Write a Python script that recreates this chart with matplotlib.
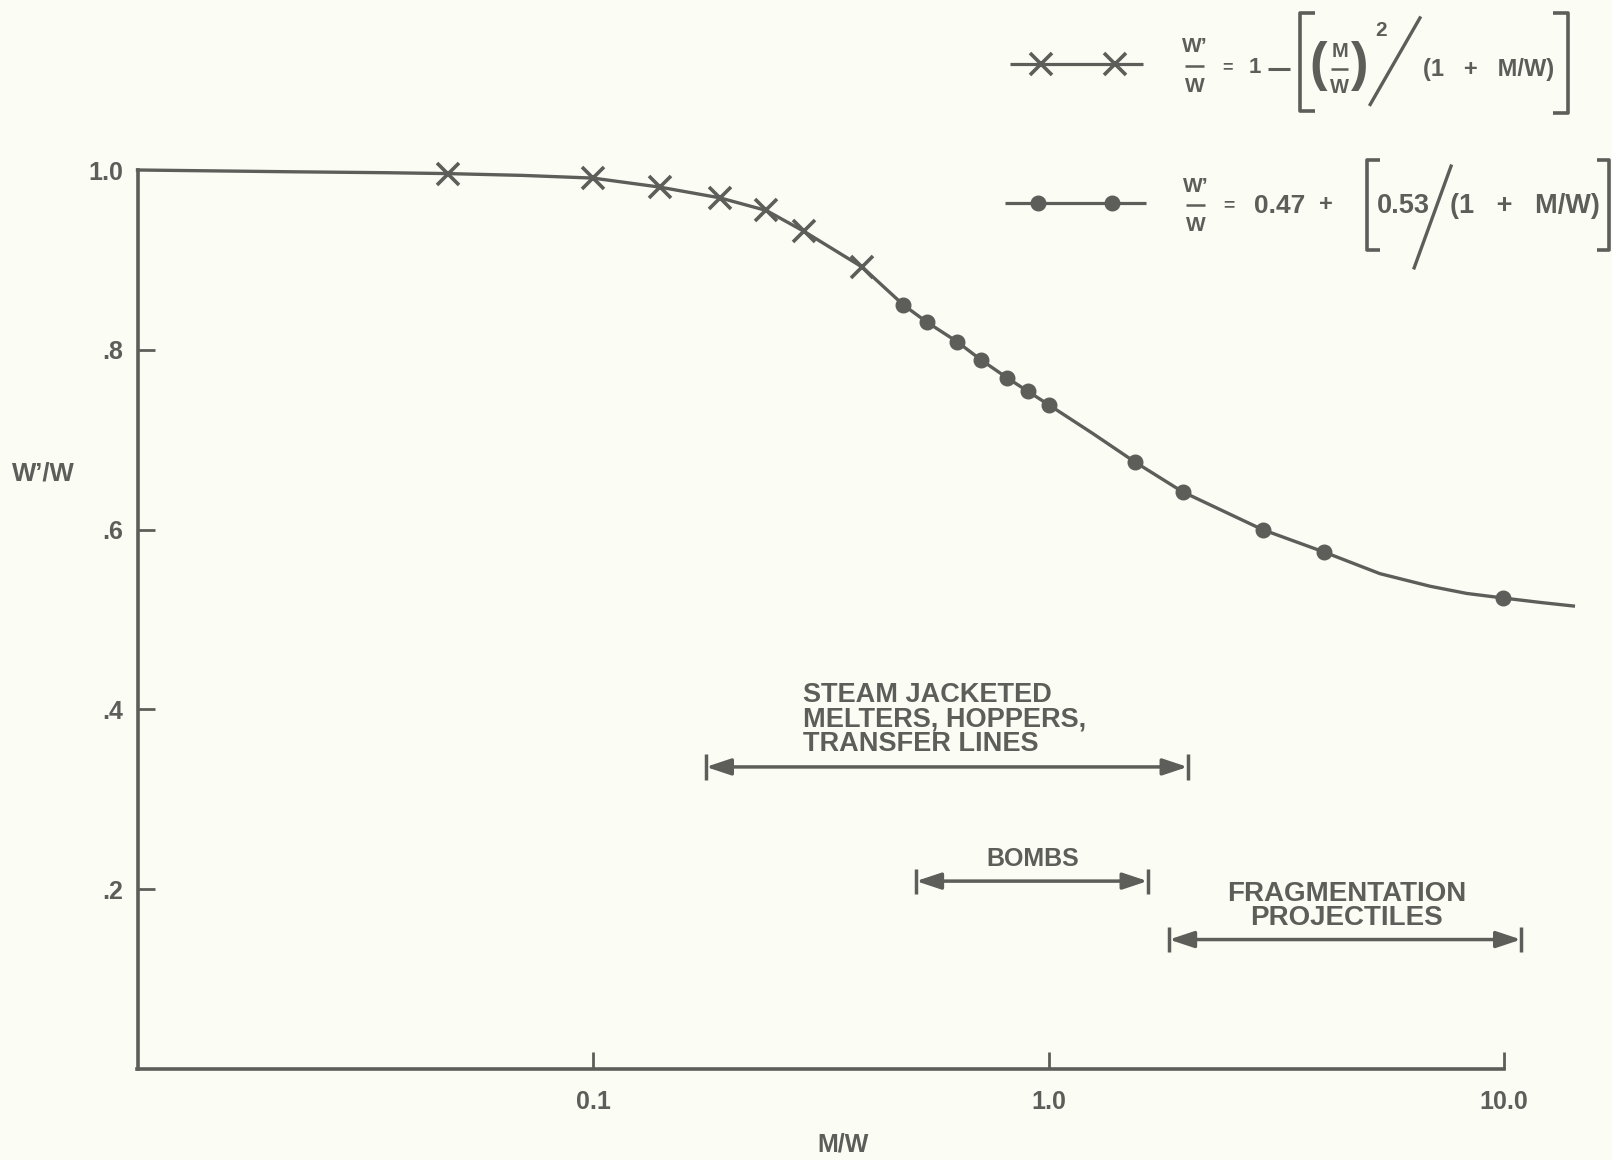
import matplotlib
matplotlib.use('Agg')
import matplotlib.pyplot as plt
from matplotlib.lines import Line2D
from matplotlib.ticker import NullLocator, FixedLocator, FixedFormatter

plt.rcParams['font.family'] = ['Liberation Sans', 'DejaVu Sans']
plt.rcParams['font.weight'] = 'bold'

INK = '#5d5e59'
BG = '#fbfcf4'

# ---------------- data ----------------
cross_x = [0.048, 0.10, 0.14, 0.19, 0.24, 0.29, 0.39]
cross_y = [0.996, 0.991, 0.981, 0.969, 0.955, 0.932, 0.892]

dot_x = [0.48, 0.54, 0.63, 0.71, 0.81, 0.90, 1.0, 1.55, 1.97, 2.95, 4.03, 9.93]
dot_y = [0.850, 0.831, 0.809, 0.789, 0.769, 0.754, 0.739, 0.675, 0.642, 0.600, 0.575, 0.524]

curve_x = [0.01, 0.022, 0.035, 0.048, 0.07, 0.10, 0.14, 0.19, 0.24, 0.29, 0.39,
           0.48, 0.54, 0.63, 0.71, 0.81, 0.90, 1.0, 1.25, 1.55, 1.97, 2.95,
           4.03, 5.34, 6.88, 8.28, 9.93, 12.0, 14.2]
curve_y = [1.0, 0.998, 0.997, 0.996, 0.994, 0.991, 0.981, 0.969, 0.955, 0.932, 0.892,
           0.850, 0.831, 0.809, 0.789, 0.769, 0.754, 0.739, 0.707, 0.675, 0.642, 0.600,
           0.575, 0.551, 0.537, 0.529, 0.524, 0.519, 0.515]

range_labels = ['STEAM JACKETED\nMELTERS, HOPPERS,\nTRANSFER LINES', 'BOMBS',
                'FRAGMENTATION\nPROJECTILES']
range_lo = [0.177, 0.512, 1.84]
range_hi = [2.02, 1.65, 10.9]
range_y = [0.336, 0.209, 0.144]

x_ticks = [0.1, 1.0, 10.0]
x_ticklabels = ['0.1', '1.0', '10.0']
y_ticks = [0.2, 0.4, 0.6, 0.8, 1.0]
y_ticklabels = ['.2', '.4', '.6', '.8', '1.0']

# ---------------- figure ----------------
fig = plt.figure(figsize=(16.12, 11.60), dpi=100, facecolor=BG)
ax = fig.add_axes([137.5 / 1612, 91 / 1160, 3.1761 * 455.5 / 1612, 899 / 1160])
ax.set_facecolor(BG)
ax.set_xscale('log')
ax.set_xlim(0.01, 15)
ax.set_ylim(0, 1.0)

for s in ['top', 'right']:
    ax.spines[s].set_visible(False)
for s in ['left', 'bottom']:
    ax.spines[s].set_color(INK)
    ax.spines[s].set_linewidth(2.6)
ax.spines['bottom'].set_bounds(0.01, 10)

ax.xaxis.set_major_locator(FixedLocator(x_ticks))
ax.xaxis.set_major_formatter(FixedFormatter(x_ticklabels))
ax.xaxis.set_minor_locator(NullLocator())
ax.yaxis.set_major_locator(FixedLocator(y_ticks))
ax.yaxis.set_major_formatter(FixedFormatter(y_ticklabels))
ax.tick_params(axis='x', direction='in', length=12, width=2, colors=INK,
               labelsize=18, pad=15)
ax.tick_params(axis='y', direction='in', length=12, width=2, colors=INK,
               labelsize=18, pad=10)
ax.yaxis.get_major_ticks()[-1].tick1line.set_visible(False)
for lbl in ax.get_xticklabels() + ax.get_yticklabels():
    lbl.set_fontweight('bold')

# curve and markers
ax.plot(curve_x, curve_y, color=INK, lw=2.4, clip_on=False, zorder=3,
        solid_joinstyle='round')
ax.plot(cross_x, cross_y, ls='none', marker='x', ms=16, mew=2.6, color=INK,
        clip_on=False, zorder=4)
ax.plot(dot_x, dot_y, ls='none', marker='o', ms=10.5, color=INK, clip_on=False, zorder=4)

# range arrows
for lab, lo, hi, y in zip(range_labels, range_lo, range_hi, range_y):
    ax.annotate('', xy=(hi, y), xytext=(lo, y),
                arrowprops=dict(arrowstyle='<|-|>,head_length=1.5,head_width=0.5',
                                lw=2.5, color=INK, shrinkA=0, shrinkB=0,
                                mutation_scale=10))
    ax.vlines([lo, hi], y - 0.014, y + 0.014, color=INK, lw=2.5)

ax.text(0.289, 0.431, range_labels[0], ha='left', va='top', fontsize=19.5,
        color=INK, linespacing=0.93)
ax.text(0.925, 0.234, range_labels[1], ha='center', va='center', fontsize=18,
        color=INK)
ax.text(4.52, 0.181, range_labels[2], ha='center', va='center', fontsize=20,
        color=INK, linespacing=0.9)

# axis labels
def P(x, y):
    return (x / 1568, 1 - y / 1128)

fig.text(*P(42, 460), 'W’/W', ha='center', va='center', fontsize=18.5, color=INK)
fig.text(*P(820, 1113), 'M/W', ha='center', va='center', fontsize=18, color=INK)

# ---------------- legend (drawn) ----------------
T = fig.transFigure

def fline(xs, ys, lw=2.2, **kw):
    pts = [P(x, y) for x, y in zip(xs, ys)]
    fig.add_artist(Line2D([p[0] for p in pts], [p[1] for p in pts], transform=T,
                          color=INK, lw=lw, solid_capstyle='butt', **kw))

def ftext(x, y, s, size=16, ha='center', va='center'):
    fig.text(*P(x, y), s, ha=ha, va=va, fontsize=size, color=INK, fontweight='bold')

def bracket(x, y0, y1, serif):
    fline([x + serif, x, x, x + serif], [y0, y0, y1, y1], lw=2.6)

# entry 1
fline([982, 1112], [62, 62], lw=2.3)
for xm in (1013, 1085):
    fig.add_artist(Line2D([P(xm, 62)[0]], [P(xm, 62)[1]], transform=T, ls='none',
                          marker='x', ms=16, mew=2.6, color=INK))
ftext(1162, 45, 'W’', 15)
fline([1153, 1171], [64, 64], lw=1.8)
ftext(1162, 84, 'W', 15)
ftext(1194, 66, '=', 13)
ftext(1221, 66, '1', 16)
fline([1233, 1255], [67, 67], lw=2.2)
bracket(1265, 13, 108, 14)
ftext(1282, 64, '(', 38)
ftext(1303, 50, 'M', 14.5)
fline([1295, 1311], [67, 67], lw=1.8)
ftext(1303, 85, 'W', 14.5)
ftext(1323, 64, ')', 38)
ftext(1343, 30, '2', 15)
fline([1332, 1382], [103, 16], lw=2.4)
ftext(1384, 68, '(1   +   M/W)', 17, ha='left')
bracket(1525, 13, 110, -14)

# entry 2
fline([978, 1115], [197, 197], lw=2.3)
for xm in (1010, 1082):
    fig.add_artist(Line2D([P(xm, 197)[0]], [P(xm, 197)[1]], transform=T, ls='none',
                          marker='o', ms=10.5, color=INK))
ftext(1163, 181, 'W’', 15)
fline([1154, 1172], [199, 199], lw=1.8)
ftext(1163, 219, 'W', 15)
ftext(1195, 200, '=', 14)
ftext(1245, 200, '0.47', 19)
ftext(1290, 199, '+', 17)
bracket(1330, 156, 243, 12)
ftext(1365, 200, '0.53', 19.5)
fline([1375, 1412], [262, 160], lw=2.4)
ftext(1410, 200, '(1   +   M/W)', 19.5, ha='left')
bracket(1565, 156, 243, -12)

fig.savefig('out.png', dpi=100, facecolor=BG)
